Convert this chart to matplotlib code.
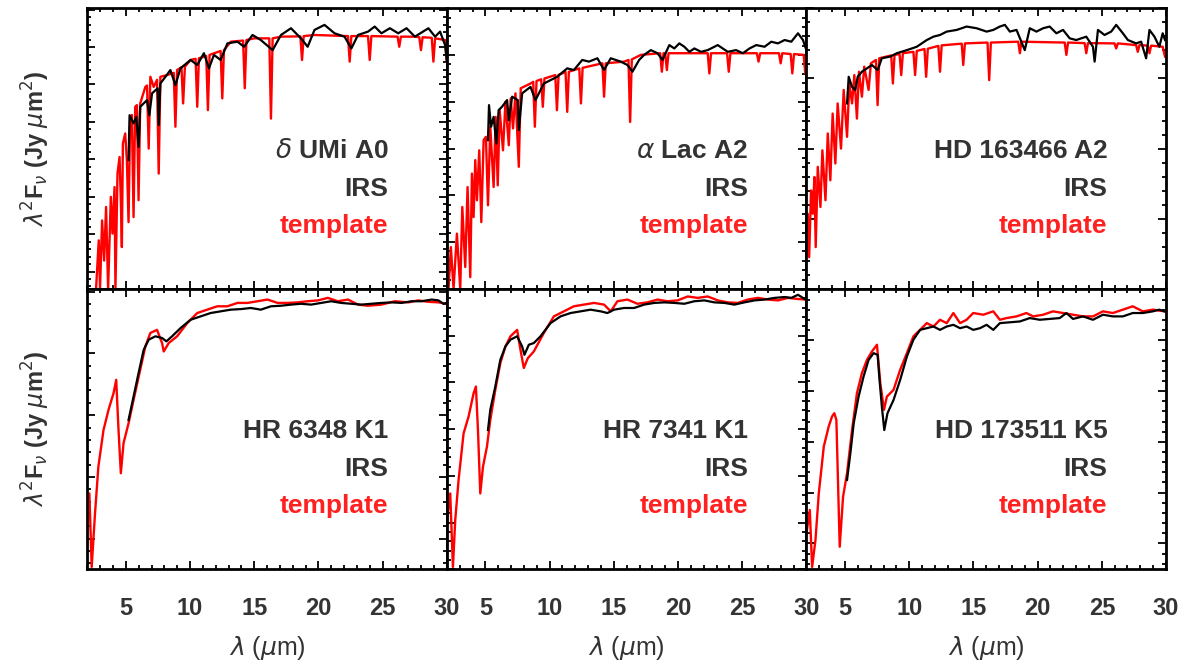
"""
IRS spectra vs. stellar templates, 2x3 grid (A stars on top, K stars below).
"""

import matplotlib
matplotlib.use("Agg")
import matplotlib.pyplot as plt
from matplotlib.ticker import MultipleLocator, AutoMinorLocator, NullFormatter

plt.rcParams['font.family'] = ['Liberation Sans', 'DejaVu Sans']

TEXT_GRAY = "#333333"
RED = "#ff0000"

# ─────────────────────────────────────────────
# DATA (wavelength in micron, flux in arbitrary units, 0-100 per panel)
# ─────────────────────────────────────────────
# delta UMi A0
dumi_tpl_wl = [2.68, 2.89, 2.99, 3.15, 3.31, 3.46, 3.62, 3.83, 3.96, 4.12, 4.19, 4.35, 4.51, 4.61,
               4.69, 4.77, 4.95, 5.08, 5.21, 5.34, 5.47, 5.6, 5.73, 5.86, 5.99, 6.12, 6.52, 6.65,
               6.78, 6.91, 7.17, 7.43, 7.56, 7.69, 8.21, 8.73, 8.86, 8.99, 9.33, 9.46, 9.6, 10.04,
               10.43, 10.56, 10.69, 11.26, 11.39, 11.52, 12.38, 12.51, 12.64, 13.17, 14.13, 14.26,
               14.39, 14.99, 16.17, 16.3, 16.43, 17.08, 18.59, 18.72, 18.85, 19.69, 22.3, 22.43,
               22.56, 23.86, 23.99, 24.12, 26.16, 26.29, 26.42, 27.51, 27.85, 27.98, 28.11, 28.82,
               28.95, 29.08, 29.86, 29.99]
dumi_tpl_fl = [0, 17.3, 0, 24.4, 10.1, 29.2, 0, 32.8, 19.7, 36.3, 0, 41.1, 47.0, 31.6,
               14.9, 51.8, 55.4, 45.9, 23.8, 61.3, 62.0, 25.6, 64.9, 65.5, 31.6, 66.1, 72.0, 72.5,
               50.0, 75.6, 72.0, 74.5, 41.1, 75.6, 76.2, 77.0, 57.8, 78.0, 79.0, 66.1, 79.2, 81.6,
               82.0, 64.9, 82.2, 83.0, 63.7, 83.4, 84.8, 67.9, 85.1, 88.1, 88.5, 71.5,
               88.7, 89.3, 89.3, 60.7, 89.3, 89.9, 90.0, 81.6, 90.1, 90.5, 90.1, 81.0,
               90.1, 90.1, 81.6, 90.1, 89.9, 86.3, 89.9, 89.9, 89.7, 85.1, 89.7, 89.5,
               81.0, 89.3, 88.7, 81.0]
dumi_irs_wl = [5.21, 5.29, 5.6, 5.81, 5.99, 6.12, 6.65, 6.83, 7.04, 7.48, 7.56, 7.69, 8.47, 8.86,
               9.25, 10.04, 10.56, 11.08, 11.47, 11.86, 12.38, 12.91, 13.69, 14.21, 14.86, 15.51,
               16.43, 17.08, 17.86, 18.64, 19.16, 19.69, 20.47, 21.25, 22.03, 22.56, 23.08, 23.86,
               24.38, 24.9, 25.56, 26.21, 26.86, 27.51, 28.56, 29.08, 29.47, 29.86, 30.0]
dumi_irs_fl = [45.9, 61.9, 59.0, 61.3, 50.6, 64.9, 67.3, 61.9, 69.7, 71.5, 58.4, 73.2, 78.0, 72.6,
               78.6, 81.6, 79.8, 84.0, 78.6, 83.4, 81.6, 87.5, 88.1, 86.3, 90.5, 88.7,
               85.1, 90.5, 92.9, 89.3, 86.3, 92.3, 94.1, 91.1, 89.9, 85.7, 90.5, 91.7,
               93.5, 91.1, 92.9, 91.1, 92.9, 89.9, 92.9, 89.9, 91.7, 86.9, 81.0]

# alpha Lac A2
alac_tpl_wl = [2.13, 2.31, 2.52, 2.78, 3.04, 3.2, 3.43, 3.61, 3.82, 3.95, 4.08, 4.21, 4.34, 4.52,
               4.68, 4.86, 5.04, 5.2, 5.38, 5.64, 5.8, 5.96, 6.11, 6.37, 6.56, 6.82, 6.97, 7.15,
               7.34, 7.6, 7.75, 8.51, 8.72, 8.85, 8.98, 9.34, 9.47, 9.6, 10.44, 10.57, 10.7, 11.24,
               11.37, 11.5, 12.31, 12.44, 12.57, 14.11, 14.24, 14.37, 15.8, 16.14, 16.27, 16.4,
               17.1, 18.61, 18.74, 18.87, 19.0, 19.13, 19.26, 22.31, 22.44, 22.57, 23.82, 23.95,
               24.08, 26.14, 26.27, 26.4, 27.86, 27.99, 28.12, 28.77, 28.9, 29.03, 29.78, 29.91, 30.0]
alac_tpl_fl = [0, 14.9, 0, 19.7, 0, 29.2, 7.8, 36.3, 4.2, 41.1, 25.6, 45.9, 31.6, 49.4,
               23.8, 53.0, 54.2, 29.8, 57.8, 36.3, 61.3, 36.9, 63.7, 49.4, 66.7, 51.2, 67.9, 57.2,
               69.7, 43.5, 71.5, 73.2, 73.8, 57.8, 74.1, 74.7, 64.9, 75.0, 76.2, 63.7, 76.3, 77.3,
               63.1, 77.4, 78.6, 66.1, 78.8, 80.4, 68.5, 80.4, 81.0, 81.6, 59.5, 81.8,
               83.4, 84.0, 77.4, 84.0, 84.0, 78.0, 84.0, 84.0, 76.8, 84.0, 84.0, 77.4,
               84.0, 84.0, 81.0, 84.0, 84.0, 80.4, 84.0, 83.7, 76.8, 83.7, 83.4, 76.8, 82.8]
alac_irs_wl = [5.2, 5.28, 5.44, 5.64, 5.85, 6.03, 6.29, 6.69, 6.82, 7.08, 7.52, 7.6, 7.86, 8.51,
               8.9, 9.55, 10.07, 10.59, 11.37, 11.89, 12.54, 13.06, 13.72, 14.24, 14.76, 15.54,
               16.06, 16.45, 16.97, 17.36, 17.88, 18.4, 18.79, 19.32, 19.71, 20.1, 20.49, 20.88,
               21.27, 21.79, 22.31, 23.09, 23.87, 24.52, 25.05, 25.57, 26.09, 26.74, 27.26, 27.78,
               28.3, 28.82, 29.34, 29.73, 29.99]
alac_irs_fl = [53.0, 65.5, 57.8, 61.3, 51.8, 63.7, 64.9, 67.3, 60.1, 68.5, 67.3, 56.6, 69.7, 72.0,
               67.3, 73.2, 74.4, 75.6, 78.6, 78.0, 81.6, 81.0, 82.2, 78.0, 82.2, 81.0,
               79.8, 77.4, 81.6, 83.4, 85.1, 84.0, 81.6, 86.9, 85.7, 87.5, 86.3, 84.5,
               85.7, 84.5, 85.1, 86.9, 84.5, 85.1, 84.0, 85.7, 86.9, 86.3, 88.1, 87.5,
               88.7, 88.1, 91.1, 88.7, 85.1]

# HD 163466 A2
hd163_tpl_wl = [2.0, 2.1, 2.21, 2.36, 2.49, 2.62, 2.72, 2.88, 3.09, 3.24, 3.48, 3.66, 3.86, 4.04,
                4.25, 4.43, 4.69, 4.9, 5.16, 5.34, 5.55, 5.73, 5.93, 6.09, 6.32, 6.5, 6.84, 7.02,
                7.41, 7.54, 7.67, 8.6, 8.73, 8.86, 9.25, 9.38, 9.51, 10.33, 10.46, 10.59, 11.19,
                11.32, 11.45, 12.27, 12.4, 12.53, 14.09, 14.21, 14.34, 16.1, 16.23, 16.36, 18.49,
                18.62, 18.74, 22.11, 22.24, 22.37, 23.66, 23.79, 23.92, 25.99, 26.12, 26.25, 27.67,
                27.8, 27.93, 28.58, 28.71, 28.84, 29.74, 29.92]
hd163_tpl_fl = [12.5, 26.8, 11.3, 35.1, 26.8, 39.9, 14.9, 43.5, 29.2, 49.4, 31.6, 55.4, 38.7, 62.5,
                44.7, 66.1, 50.0, 70.9, 54.2, 73.2, 66.1, 76.2, 60.7, 77.4, 68.5, 79.2, 70.9, 80.4,
                81.6, 65.5, 82.2, 83.2, 73.2, 83.4, 83.7, 76.2, 84.0, 84.5, 76.2, 84.8, 85.5,
                75.6, 85.6, 86.6, 77.4, 86.8, 87.4, 79.8, 87.5, 87.8, 74.4, 87.8, 88.1,
                84.0, 88.1, 87.8, 83.4, 87.8, 87.6, 84.0, 87.6, 87.5, 85.7, 87.5, 86.9,
                84.5, 86.9, 86.7, 84.0, 86.7, 86.3, 82.8]
hd163_irs_wl = [5.16, 5.29, 5.55, 5.8, 5.99, 6.32, 6.71, 7.1, 7.54, 7.87, 8.52, 9.04, 9.82, 10.59,
                11.37, 11.89, 12.4, 12.92, 13.7, 14.47, 15.25, 16.03, 16.55, 17.06, 17.45, 17.84,
                18.36, 19.0, 19.39, 19.91, 20.43, 20.94, 21.46, 21.98, 22.5, 23.01, 23.79, 24.31,
                24.44, 24.7, 25.21, 25.73, 26.12, 26.64, 27.03, 27.67, 28.06, 28.45, 28.71, 29.1,
                29.48, 29.74, 29.92]
hd163_irs_fl = [66.1, 75.6, 72.0, 70.9, 75.6, 77.4, 78.6, 79.8, 78.0, 82.2, 82.8, 84.0, 85.1, 86.3,
                88.7, 89.9, 90.5, 91.7, 92.3, 93.5, 92.9, 91.7, 92.3, 93.5, 94.1, 91.7,
                92.3, 85.1, 92.9, 91.7, 92.9, 93.5, 91.1, 92.3, 89.3, 88.7, 89.9, 86.3,
                81.0, 92.3, 90.5, 91.7, 94.1, 91.1, 88.7, 87.5, 88.1, 82.2, 92.3, 89.9,
                86.3, 91.1, 88.7]

# HR 6348 K1
hr6348_tpl_wl = [2.0, 2.16, 2.34, 2.6, 2.86, 3.26, 3.65, 4.04, 4.25, 4.43, 4.61, 4.82, 5.21, 5.6,
                 6.12, 6.52, 6.91, 7.43, 7.82, 7.95, 8.34, 8.99, 9.78, 10.56, 11.34, 12.12, 12.91,
                 13.69, 14.47, 15.25, 16.03, 16.82, 17.6, 18.38, 19.16, 19.95, 20.73, 21.51, 22.3,
                 23.08, 23.86, 24.9, 25.95, 26.99, 27.77, 28.56, 29.34, 29.99]
hr6348_tpl_fl = [17.6, 27.1, 0.9, 20.0, 36.6, 49.7, 56.9, 62.8, 67.6, 49.7, 34.3, 45.0, 52.1, 60.4,
                 71.2, 79.5, 84.3, 85.4, 80.7, 77.7, 80.7, 83.1, 87.8, 91.4, 92.6, 93.8, 93.8,
                 95.0, 95.0, 95.6, 96.2, 95.0, 95.0, 95.2, 95.6, 95.9, 96.8, 95.6, 96.2,
                 94.4, 94.0, 94.4, 95.6, 95.2, 95.9, 95.4, 95.2, 94.7]
hr6348_irs_wl = [5.21, 5.6, 5.99, 6.39, 6.78, 7.3, 7.82, 8.16, 8.6, 9.25, 10.04, 10.82, 11.6, 12.38,
                 13.17, 13.95, 14.73, 15.51, 16.3, 17.08, 17.86, 18.64, 19.43, 20.21, 20.99, 21.77,
                 22.56, 23.34, 24.12, 24.9, 25.69, 26.47, 27.25, 28.03, 28.82, 29.34, 29.73, 29.99]
hr6348_irs_fl = [53.3, 61.6, 70.0, 78.3, 81.9, 83.1, 82.5, 81.3, 83.1, 86.0, 89.0, 90.2, 91.4, 92.0,
                 92.6, 92.8, 93.2, 92.6, 93.8, 94.0, 94.4, 94.7, 94.4, 95.0, 95.6, 95.0,
                 94.7, 94.4, 94.7, 95.0, 95.2, 95.0, 95.6, 95.6, 96.2, 95.9, 94.7, 95.0]

# HR 7341 K1
hr7341_tpl_wl = [2.0, 2.26, 2.47, 2.65, 2.91, 3.3, 3.69, 4.08, 4.26, 4.42, 4.6, 4.81, 5.12, 5.38,
                 5.77, 6.16, 6.56, 6.95, 7.47, 7.73, 7.99, 8.3, 8.77, 9.55, 10.33, 11.11, 11.89,
                 12.67, 13.46, 14.24, 14.76, 15.28, 16.06, 16.84, 17.62, 18.4, 19.18, 19.97, 20.75,
                 21.53, 22.31, 23.09, 23.87, 24.65, 25.43, 26.22, 27.0, 27.78, 28.56, 29.34, 29.99]
hr7341_tpl_fl = [17.6, 27.1, 0.9, 17.6, 31.9, 48.5, 54.5, 62.8, 65.2, 49.7, 27.1, 36.6, 43.8, 53.3,
                 64.0, 73.5, 79.5, 83.1, 85.4, 78.3, 71.8, 75.3, 77.7, 84.3, 90.2, 92.0, 93.8,
                 94.4, 95.0, 94.4, 92.0, 95.6, 96.2, 94.7, 95.2, 96.2, 95.6, 95.9, 97.3,
                 96.8, 97.3, 95.9, 95.2, 95.0, 96.2, 96.8, 96.2, 95.9, 96.8, 96.4, 96.2]
hr7341_irs_wl = [5.2, 5.38, 5.77, 6.16, 6.56, 6.95, 7.47, 7.86, 8.04, 8.38, 8.77, 9.29, 10.07, 10.85,
                 11.63, 12.41, 13.19, 13.98, 14.5, 15.02, 15.8, 16.58, 17.36, 18.14, 18.93, 19.71,
                 20.49, 21.27, 22.05, 22.83, 23.61, 24.39, 25.17, 25.96, 26.74, 27.52, 28.3, 28.82,
                 29.34, 29.86]
hr7341_irs_fl = [49.7, 56.9, 65.2, 74.7, 79.5, 81.9, 83.1, 79.5, 76.5, 80.1, 80.7, 83.1, 87.8, 90.2,
                 91.4, 92.0, 92.6, 92.0, 91.4, 92.6, 93.2, 93.2, 94.4, 95.0, 95.2, 95.0,
                 94.7, 95.6, 95.9, 95.2, 95.0, 94.4, 95.2, 95.9, 96.2, 96.8, 97.1, 96.8,
                 97.9, 96.4]

# HD 173511 K5
hd173_tpl_wl = [2.0, 2.26, 2.44, 2.7, 2.96, 3.35, 3.73, 3.99, 4.17, 4.33, 4.59, 4.85, 5.16, 5.55,
                5.93, 6.32, 6.71, 7.1, 7.49, 7.75, 8.04, 8.26, 8.78, 9.3, 9.82, 10.33, 10.85, 11.37,
                11.89, 12.4, 12.92, 13.44, 13.96, 14.47, 14.99, 15.77, 16.55, 17.06, 17.58, 18.36,
                19.13, 19.65, 20.43, 21.2, 21.98, 22.76, 23.53, 24.31, 25.09, 25.86, 26.64, 27.41,
                28.19, 28.97, 29.87]
hd173_tpl_fl = [12.8, 21.2, 0.9, 10.4, 27.1, 43.8, 50.9, 54.5, 55.7, 53.3, 8.1, 25.9, 34.3, 49.7,
                62.8, 70.0, 74.7, 77.7, 80.1, 66.4, 56.9, 61.6, 64.0, 71.2, 77.1, 83.1, 85.4, 87.8,
                86.6, 89.0, 87.8, 91.4, 87.8, 89.0, 91.4, 90.8, 92.0, 89.0, 89.6, 90.2,
                91.4, 90.2, 90.8, 92.0, 91.4, 90.8, 90.2, 90.2, 92.0, 91.4, 92.6, 93.8,
                92.0, 92.6, 92.0]
hd173_irs_wl = [5.16, 5.42, 5.68, 6.06, 6.45, 6.84, 7.23, 7.54, 7.69, 7.87, 8.06, 8.31, 8.78, 9.3,
                9.82, 10.33, 10.85, 11.37, 11.89, 12.4, 12.92, 13.44, 13.96, 14.47, 14.99, 15.51,
                16.03, 16.55, 17.06, 17.84, 18.62, 19.39, 20.17, 20.94, 21.72, 22.24, 22.76, 23.53,
                24.31, 25.09, 25.86, 26.64, 27.41, 28.19, 28.97, 29.48, 29.87]
hd173_irs_fl = [31.9, 41.4, 52.1, 61.6, 68.8, 74.7, 77.1, 76.5, 67.6, 58.1, 49.7, 55.7, 60.4, 67.6,
                75.9, 81.9, 85.4, 86.0, 86.6, 85.4, 86.6, 87.2, 86.0, 86.6, 85.4, 86.0,
                87.2, 85.4, 87.8, 88.1, 88.4, 89.6, 89.0, 89.3, 89.6, 91.4, 89.3, 90.2,
                89.0, 90.8, 90.2, 90.2, 91.4, 91.4, 92.0, 92.6, 92.0]

# star name, (greek letter prefix), template, IRS, y-tick spacing/offset
PANELS = [
    (r"$\delta$", "UMi A0", dumi_tpl_wl, dumi_tpl_fl, dumi_irs_wl, dumi_irs_fl, 13.33, 6.2),
    (r"$\alpha$", "Lac A2", alac_tpl_wl, alac_tpl_fl, alac_irs_wl, alac_irs_fl, 16.67, 0.0),
    ("", "HD 163466 A2", hd163_tpl_wl, hd163_tpl_fl, hd163_irs_wl, hd163_irs_fl, 25.0, 0.0),
    ("", "HR 6348 K1", hr6348_tpl_wl, hr6348_tpl_fl, hr6348_irs_wl, hr6348_irs_fl, 22.0, 11.0),
    ("", "HR 7341 K1", hr7341_tpl_wl, hr7341_tpl_fl, hr7341_irs_wl, hr7341_irs_fl, 16.67, 0.0),
    ("", "HD 173511 K5", hd173_tpl_wl, hd173_tpl_fl, hd173_irs_wl, hd173_irs_fl, 18.1, 9.3),
]


def main():
    fig, axes = plt.subplots(2, 3, figsize=(11.88, 6.71), dpi=100)
    fig.subplots_adjust(left=0.0735, right=0.9815, top=0.9876, bottom=0.1513,
                        wspace=0, hspace=0)

    for i, (greek, name, twl, tfl, iwl, ifl, ybase, yoff) in enumerate(PANELS):
        ax = axes.flat[i]
        ax.plot(twl, tfl, color=RED, linewidth=1.7, zorder=2)
        ax.plot(iwl, ifl, color="black", linewidth=1.6, zorder=3)

        ax.set_xlim(2, 30)
        ax.set_ylim(0, 100)
        ax.xaxis.set_major_locator(MultipleLocator(5))
        ax.xaxis.set_minor_locator(MultipleLocator(1))
        ax.yaxis.set_major_locator(MultipleLocator(ybase, offset=yoff))
        ax.yaxis.set_minor_locator(AutoMinorLocator(5))
        ax.yaxis.set_major_formatter(NullFormatter())
        ax.tick_params(which="both", direction="in", top=True, right=True,
                       width=1.3, colors="black", labelcolor=TEXT_GRAY)
        ax.tick_params(which="major", length=6)
        ax.tick_params(which="minor", length=3)
        ax.tick_params(axis="x", labelsize=17, pad=20)
        if i < 3:
            ax.xaxis.set_major_formatter(NullFormatter())
        for sp in ax.spines.values():
            sp.set_linewidth(2.0)

        # star label block
        label = (greek + " " + name) if greek else name
        ax.text(0.837, 0.468, label, transform=ax.transAxes, ha="right",
                va="baseline", fontsize=19, fontweight="bold", color=TEXT_GRAY)
        ax.text(0.837, 0.332, "IRS", transform=ax.transAxes, ha="right",
                va="baseline", fontsize=19, fontweight="bold", color=TEXT_GRAY)
        ax.text(0.837, 0.20, "template", transform=ax.transAxes, ha="right",
                va="baseline", fontsize=19, fontweight="bold", color="#ff2020")

    for ax in axes[1]:
        for lbl in ax.get_xticklabels():
            lbl.set_fontweight("bold")

    ylab = r"$\lambda^2$F$_\nu$ (Jy $\mu$m$^2$)"
    for row in range(2):
        pos = axes[row, 0].get_position()
        fig.text(0.030, (pos.y0 + pos.y1) / 2, ylab, rotation=90, ha="center",
                 va="center", fontsize=17, fontweight="bold", color=TEXT_GRAY)

    for col in range(3):
        pos = axes[1, col].get_position()
        fig.text((pos.x0 + pos.x1) / 2, 0.034, r"$\lambda$ ($\mu$m)", ha="center",
                 va="center", fontsize=18, color=TEXT_GRAY)

    fig.savefig("out.png", dpi=100)
    plt.close(fig)


if __name__ == "__main__":
    main()
